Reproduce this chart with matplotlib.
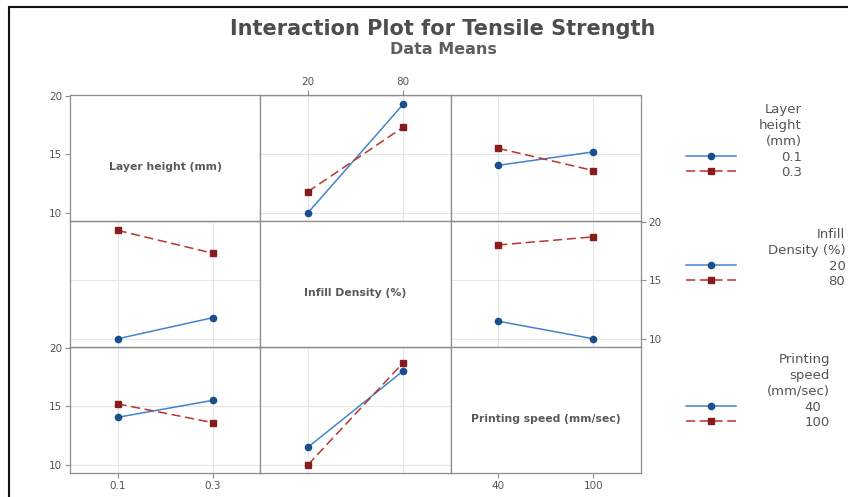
import matplotlib
matplotlib.use("Agg")
import matplotlib.pyplot as plt
from matplotlib.patches import Rectangle

plt.rcParams['font.family'] = ['DejaVu Sans']

factors = ["Layer height (mm)", "Infill Density (%)", "Printing speed (mm/sec)"]
legend_titles = ["Layer\nheight\n(mm)", "Infill\nDensity (%)", "Printing\nspeed\n(mm/sec)"]
levels = [[0.1, 0.3], [20, 80], [40, 100]]
level_labels = [["0.1", "0.3"], ["20", "80"], ["40", "100"]]
y_ticks = [10, 15, 20]

# data means: rows = levels of first factor, cols = levels of second factor
layer_infill = [[10.0, 19.25], [11.8, 17.3]]
layer_speed = [[14.05, 15.2], [15.5, 13.6]]
infill_speed = [[11.5, 10.0], [18.0, 18.7]]

tables = {(0, 1): layer_infill, (0, 2): layer_speed, (1, 2): infill_speed}

line_colors = ["#4383cc", "#bb3430"]
marker_colors = ["#1b4f8c", "#861c1c"]
markers = ["o", "s"]
styles = ["-", (0, (6, 3))]
gray = "#8c8c8c"
text_gray = "#555555"


def get_means(r, c):
    # means for trace factor r (rows) against x factor c (cols)
    if (r, c) in tables:
        return tables[(r, c)]
    t = tables[(c, r)]
    return [[t[0][0], t[1][0]], [t[0][1], t[1][1]]]


fig, axes = plt.subplots(3, 3, figsize=(8.48, 4.97), dpi=100)
fig.subplots_adjust(left=70/848, right=641/848, top=1-95/497, bottom=1-473/497,
                    wspace=0, hspace=0)

legend_handles = [None, None, None]
for r in range(3):
    for c in range(3):
        ax = axes[r][c]
        lo, hi = levels[c]
        d = hi - lo
        ax.set_xlim(lo - 0.5*d, hi + 0.5*d)
        ax.set_ylim(9.3, 20.05)
        ax.set_xticks(levels[c])
        ax.set_xticklabels(level_labels[c])
        ax.set_yticks(y_ticks)
        ax.set_yticklabels([str(v) for v in y_ticks])
        for sp in ax.spines.values():
            sp.set_color(gray)
            sp.set_linewidth(0.9)
        ax.tick_params(length=3.5, width=0.8, color=gray, labelsize=7.5,
                       labelcolor=text_gray, pad=2,
                       left=False, right=False, top=False, bottom=False,
                       labelleft=False, labelright=False,
                       labeltop=False, labelbottom=False)
        if r == 2 and c != 1:
            ax.tick_params(bottom=True, labelbottom=True)
        if r == 0 and c == 1:
            ax.tick_params(top=True, labeltop=True)
        if c == 0 and r != 1:
            ax.tick_params(left=True, labelleft=True)
        if c == 2 and r == 1:
            ax.tick_params(right=True, labelright=True)

        if r == c:
            ax.text(0.5, 0.43, factors[r], transform=ax.transAxes,
                    ha="center", va="center", fontsize=7.8, fontweight="bold",
                    color="#5a5a5a")
            continue

        ax.grid(True, color="#e6e6e6", lw=0.8)
        ax.set_axisbelow(True)
        means = get_means(r, c)
        hs = []
        for k in range(2):
            h, = ax.plot(levels[c], means[k], color=line_colors[k],
                         linestyle=styles[k], lw=1.1, marker=markers[k],
                         markersize=4.5,
                         markerfacecolor=marker_colors[k],
                         markeredgecolor=marker_colors[k], zorder=3)
            hs.append(h)
        if legend_handles[r] is None:
            legend_handles[r] = hs

# legends on the right
legend_tops = [103, 228, 353]
legend_pads = [3.4, 7.0, 5.2]
for r in range(3):
    leg = fig.legend(legend_handles[r], level_labels[r], title=legend_titles[r],
                     loc="upper left", bbox_to_anchor=(686/848, 1 - legend_tops[r]/497),
                     frameon=False, fontsize=9.5, title_fontsize=9.5,
                     handlelength=3.8, handletextpad=legend_pads[r],
                     labelspacing=0.15, borderpad=0, borderaxespad=0,
                     alignment="right")
    leg._legend_box.sep = 2
    leg.get_title().set_color(text_gray)
    leg.get_title().set_multialignment("right")
    leg.get_title().set_linespacing(1.3)
    for t in leg.get_texts():
        t.set_color(text_gray)

fig.text(443/848, 1 - 29/497, "Interaction Plot for Tensile Strength",
         ha="center", va="center", fontsize=15, fontweight="bold",
         color="#4d4d4d")
fig.text(443/848, 1 - 50/497, "Data Means", ha="center", va="center",
         fontsize=11.5, fontweight="bold", color="#5e5e5e")

# outer frame
fig.patches.append(Rectangle((9/848, -0.1), 1.2, 1.1 - 7/497,
                             transform=fig.transFigure, fill=False,
                             edgecolor="#111111", lw=1.5))

fig.savefig("out.png", dpi=100)
